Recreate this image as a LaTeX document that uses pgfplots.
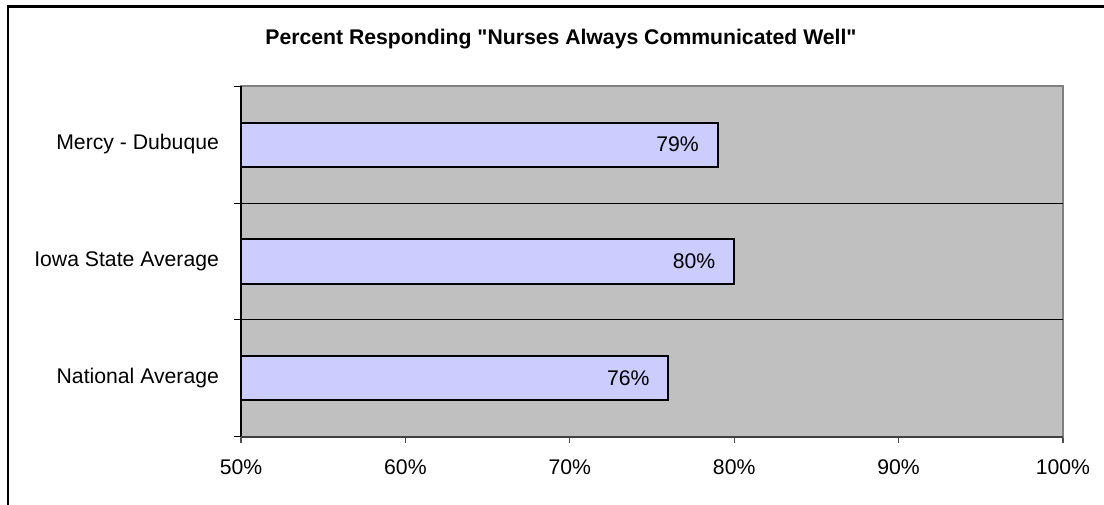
\documentclass[border=0pt]{standalone}
\usepackage{pgfplots}
\pgfplotsset{compat=1.18}
\usepackage{fontspec}
\setmainfont{Liberation Sans}
\definecolor{barfill}{HTML}{CCCCFF}
\definecolor{plotbg}{HTML}{C0C0C0}
\definecolor{bordergray}{HTML}{808080}
\begin{document}
\begin{tikzpicture}
\clip (0pt,0pt) rectangle (552pt,252pt);
\fill[white] (0pt,0pt) rectangle (552pt,252pt);
\draw[line width=1.4pt] (4pt,248.8pt) rectangle (557pt,-6pt);
\node[font=\bfseries\fontsize{10.6pt}{12pt}\selectfont, anchor=base] at (280.5pt,229.5pt) {Percent Responding \textquotedbl Nurses Always Communicated Well\textquotedbl};
\begin{axis}[
  at={(120.5pt,33.5pt)}, anchor=south west,
  scale only axis, width=411pt, height=175.5pt,
  xbar, bar width=22pt,
  xmin=50, xmax=100, ymin=0.5, ymax=3.5,
  xtick={50,60,70,80,90,100},
  xticklabels={50\%,60\%,70\%,80\%,90\%,100\%},
  ytick={1,2,3},
  yticklabels={National Average,Iowa State Average,Mercy - Dubuque},
  minor ytick={0.5,1.5,2.5,3.5},
  extra y ticks={1.5,2.5}, extra y tick labels={},
  extra y tick style={grid=major, major tick length=0pt},
  major grid style={black, line width=0.5pt},
  xtick pos=bottom, ytick pos=left,
  tick align=outside,
  y tick style={draw=none},
  minor y tick style={draw=black, line width=0.5pt},
  minor tick length=3.5pt,
  x tick style={draw=black!70, line width=0.6pt},
  major tick length=3pt,
  axis background/.style={fill=plotbg},
  axis line style={draw=bordergray, line width=0.8pt},
  tick label style={font=\fontsize{10.6pt}{12pt}\selectfont},
  yticklabel style={xshift=-4.5pt},
  xticklabel style={yshift=-5pt},
  /pgf/number format/assume math mode=true,
  point meta=x,
  nodes near coords={\pgfmathprintnumber[fixed,precision=0]{\pgfplotspointmeta}\%},
  nodes near coords align={anchor=east},
  every node near coord/.append style={font=\fontsize{10.6pt}{12pt}\selectfont, inner sep=0pt, xshift=-9pt, text=black},
  after end axis/.code={
    \draw[black, line width=1pt] (rel axis cs:0,0) -- (rel axis cs:0,1);
    \draw[black!75, line width=1pt] (rel axis cs:0,0) -- (rel axis cs:1,0);
  },
]
\addplot[fill=barfill, draw=black, line width=1pt] coordinates {(76,1) (80,2) (79,3)};
\end{axis}
\end{tikzpicture}
\end{document}
